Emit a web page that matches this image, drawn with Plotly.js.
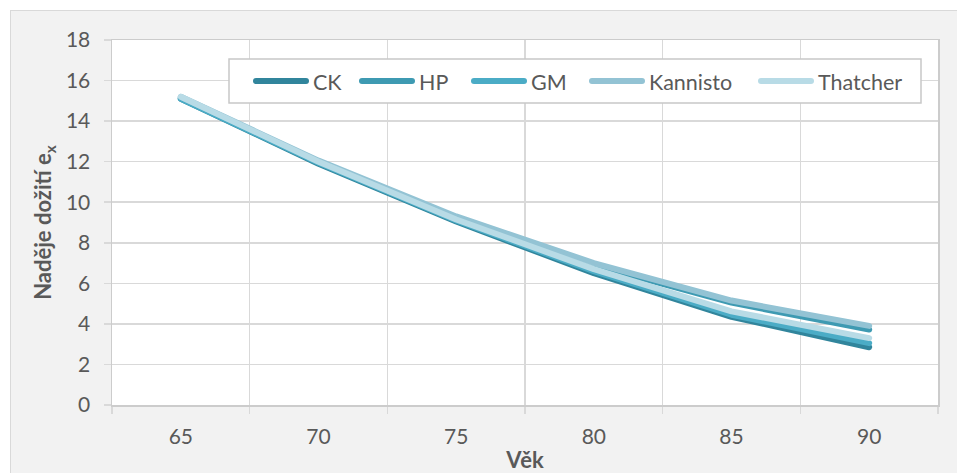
<!DOCTYPE html>
<html>
<head>
<meta charset="utf-8">
<script src="https://cdn.plot.ly/plotly-3.0.1.min.js"></script>
<style>
  html, body { margin: 0; padding: 0; background: #ffffff; }
  #frame {
    position: absolute; left: 10px; top: 10px;
    width: 947px; height: 463px;
    border-left: 1px solid #d9d9d9; border-top: 1px solid #d9d9d9;
    background: #f2f2f2;
  }
  #chart { width: 946px; height: 462px; }
  .scatterlayer path.js-line { stroke-linecap: round; stroke-linejoin: round; }
  .layer-above path { stroke-linecap: round; }
</style>
</head>
<body>
<div id="frame"><div id="chart"></div></div>
<script>
// Age groups (x) and remaining life expectancy per model
const ages = [65, 70, 75, 80, 85, 90];
const seriesNames = ['CK', 'HP', 'GM', 'Kannisto', 'Thatcher'];
const ck       = [15.10, 11.90, 9.05, 6.50, 4.35, 2.85];
const hp       = [15.15, 12.00, 9.20, 6.90, 5.05, 3.72];
const gm       = [15.10, 11.95, 9.10, 6.60, 4.45, 3.05];
const kannisto = [15.20, 12.05, 9.30, 7.00, 5.15, 3.90];
const thatcher = [15.20, 12.00, 9.15, 6.70, 4.62, 3.30];
const yTicks = [0, 2, 4, 6, 8, 10, 12, 14, 16, 18];

const values = [ck, hp, gm, kannisto, thatcher];
const colors = ['#31859c', '#3e9ab2', '#4bacc6', '#93c3d4', '#b8dbe6'];

const fontFam = 'Lato, "Open Sans", sans-serif';
const textCol = '#595959';

// plot-area geometry in pixels (page coordinates), used to place the legend box
const W = 946, H = 462;
const M = { l: 101, r: 19, t: 29, b: 68 };
const pw = W - M.l - M.r, ph = H - M.t - M.b;
const offX = 11, offY = 11;               // frame offset inside the page
const px = x => (x - offX - M.l) / pw;    // page x -> paper x
const py = y => (H - M.b + offY - y) / ph; // page y -> paper y

const traces = seriesNames.map((name, i) => ({
  type: 'scatter',
  mode: 'lines',
  name: name,
  x: ages,
  y: values[i],
  line: { color: colors[i], width: 6 },
  showlegend: false
}));

// legend: boxed row of line swatches with labels
const legendBox = { x0: 229, x1: 921, y0: 59, y1: 103 };
const legendCy = 81;
const swatchStart = [256, 362, 474, 592, 761];
const swatchLen = 50;

const shapes = [{
  type: 'rect', xref: 'paper', yref: 'paper', layer: 'above',
  x0: px(legendBox.x0), x1: px(legendBox.x1), y0: py(legendBox.y1), y1: py(legendBox.y0),
  fillcolor: '#ffffff', line: { color: '#c8c8c8', width: 1.5 }
}];
const annotations = [];
seriesNames.forEach((name, i) => {
  shapes.push({
    type: 'line', xref: 'paper', yref: 'paper', layer: 'above',
    x0: px(swatchStart[i]), x1: px(swatchStart[i] + swatchLen),
    y0: py(legendCy), y1: py(legendCy),
    line: { color: colors[i], width: 6 }
  });
  annotations.push({
    xref: 'paper', yref: 'paper', showarrow: false,
    x: px(swatchStart[i] + swatchLen + 5), y: py(legendCy + 1),
    xanchor: 'left', yanchor: 'middle',
    text: name,
    font: { family: fontFam, size: 21.5, color: textCol }
  });
});

const layout = {
  width: W,
  height: H,
  margin: M,
  paper_bgcolor: '#f2f2f2',
  plot_bgcolor: '#ffffff',
  font: { family: fontFam, size: 21, color: textCol },
  showlegend: false,
  shapes: shapes,
  annotations: annotations,
  xaxis: {
    range: [62.5, 92.5],
    tickvals: ages,
    ticktext: ages.map(String),
    ticks: '',
    ticklabelstandoff: 12,
    showgrid: false,
    zeroline: false,
    showline: true,
    mirror: true,
    linecolor: '#cccccc',
    linewidth: 1.5,
    tickfont: { family: fontFam, size: 21, color: textCol },
    minor: {
      tick0: 62.5, dtick: 5,
      showgrid: true, gridcolor: '#d9d9d9', gridwidth: 1.5,
      ticks: 'outside', ticklen: 7, tickcolor: '#d9d9d9', tickwidth: 1.5
    },
    title: { text: 'Věk', font: { family: fontFam, size: 22, color: textCol, weight: 'bold' }, standoff: 6 }
  },
  yaxis: {
    range: [0, 18],
    tickvals: yTicks,
    ticks: 'outside',
    ticklen: 7,
    tickcolor: '#d9d9d9',
    tickwidth: 1.5,
    ticklabelstandoff: 9,
    showgrid: true,
    gridcolor: '#d9d9d9',
    gridwidth: 1.5,
    zeroline: false,
    showline: true,
    mirror: true,
    linecolor: '#cccccc',
    linewidth: 1.5,
    tickfont: { family: fontFam, size: 21, color: textCol },
    title: { text: 'Naděje dožití e<sub>x</sub>', font: { family: fontFam, size: 22, color: textCol, weight: 'bold' }, standoff: 8 }
  }
};

Plotly.newPlot('chart', traces, layout, { displayModeBar: false, staticPlot: true });
</script>
</body>
</html>
